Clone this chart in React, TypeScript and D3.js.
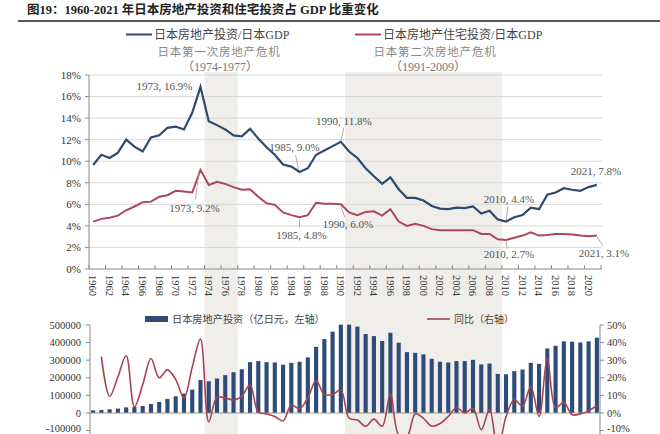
import React, { useRef, useEffect } from "react";
import * as d3 from "d3";

// 年份（类目）
const years = d3.range(1960, 2022);

// 日本房地产投资/日本GDP (%)
const reShare = [
  9.65, 10.6, 10.3, 10.8, 12.0, 11.35, 10.9, 12.2, 12.4, 13.1,
  13.2, 12.95, 14.5, 16.9, 13.7, 13.35, 12.95, 12.4, 12.3, 13.0,
  12.1, 11.3, 10.6, 9.7, 9.5, 9.0, 9.35, 10.6, 11.0, 11.4,
  11.8, 10.9, 10.3, 9.35, 8.6, 7.9, 8.5, 7.4, 6.6, 6.6,
  6.35, 5.85, 5.6, 5.55, 5.7, 5.65, 5.8, 5.15, 5.4, 4.6,
  4.4, 4.8, 5.0, 5.7, 5.55, 6.9, 7.1, 7.5, 7.35, 7.25,
  7.6, 7.8,
];

// 日本房地产住宅投资/日本GDP (%)
const resShare = [
  4.4, 4.65, 4.75, 4.95, 5.45, 5.8, 6.2, 6.25, 6.7, 6.85,
  7.25, 7.2, 7.1, 9.2, 7.8, 8.1, 7.9, 7.6, 7.35, 7.4,
  6.7, 6.1, 5.95, 5.25, 5.0, 4.8, 5.0, 6.15, 6.05, 6.05,
  6.0, 5.25, 5.0, 5.3, 5.35, 4.95, 5.55, 4.4, 4.0, 4.2,
  4.0, 3.7, 3.6, 3.6, 3.6, 3.6, 3.6, 3.25, 3.25, 2.75,
  2.7, 2.9, 3.1, 3.4, 3.1, 3.15, 3.25, 3.25, 3.2, 3.1,
  3.05, 3.1,
];

// 日本房地产投资（亿日元）
const reInvest = [
  15000, 17000, 21000, 25000, 32000, 34000, 40000, 51000, 63000, 80000,
  95000, 110000, 133000, 188000, 180000, 196000, 215000, 232000, 249000, 289000,
  295000, 289000, 287000, 274000, 285000, 291000, 316000, 376000, 420000, 462000,
  502000, 502000, 491000, 449000, 437000, 409000, 456000, 399000, 346000, 342000,
  333000, 308000, 291000, 287000, 295000, 295000, 302000, 276000, 281000, 222000,
  220000, 238000, 247000, 285000, 279000, 367000, 382000, 407000, 405000, 401000,
  407000, 428000,
];

// 同比 (%)
const reYoY: (number | null)[] = [
  null, 32, 9.5, 20.5, 32.5, 3.5, 16, 31, 20, 24.5,
  19, 8.5, 26, 42, -5, 9, 8.5, 7.5, 9.5, 16,
  0.5, -0.5, -2, -4.5, 4.5, 2.5, 8.5, 18.5, 10.5, 10.5,
  13, -3, -4, -7.5, -3.5, -7.5, 11, -12.5, -13.5, -0.5,
  -3, -7.5, -6, -2, 3, 0, 2.5, -9.5, 2, -21,
  -2, 7.5, 4, 15, -2, 31, 3, 6, -1, -0.5,
  1.2, 4.4,
];

const pctTicks = [0, 2, 4, 6, 8, 10, 12, 14, 16, 18];
const investTicks = [-100000, 0, 100000, 200000, 300000, 400000, 500000];
const yoyTicks = [-10, 0, 10, 20, 30, 40, 50];

const crises = [
  { name: "日本第一次房地产危机", period: "（1974-1977）", start: 1974, end: 1977 },
  { name: "日本第二次房地产危机", period: "（1991-2009）", start: 1991, end: 2009 },
];

const W = 660;
const H = 434;
const FONT = "'Liberation Serif', 'Noto Sans CJK SC', serif";
const BLUE = "#2d4a70";
const RED = "#b0465a";
const NAVY = "#2f4c78";
const AXIS = "#8a8a8a";

const App = () => {
  const svgRef = useRef<SVGSVGElement>(null);

  useEffect(() => {
    if (!svgRef.current) return;
    const svg = d3.select(svgRef.current);
    svg.selectAll("*").remove();
    svg.style("font-family", FONT);

    const x = d3.scaleBand<number>().domain(years).range([89, 601]).padding(0);
    const cx = (yr: number) => (x(yr) as number) + x.bandwidth() / 2;
    const yTop = d3.scaleLinear().domain([0, 18]).range([269, 75]);
    const yInv = d3.scaleLinear().domain([-100000, 500000]).range([430.6, 325]);
    const yYoY = d3.scaleLinear().domain([-10, 50]).range([430.6, 325]);

    // 危机阴影
    crises.forEach((c) => {
      svg
        .append("rect")
        .attr("x", x(c.start) as number)
        .attr("y", 72)
        .attr("width", (x(c.end) as number) + x.bandwidth() - (x(c.start) as number))
        .attr("height", H - 72)
        .attr("fill", "#efeeea");
    });

    // 标题
    svg
      .append("text")
      .attr("x", 27)
      .attr("y", 14)
      .style("font-size", "12.5px")
      .style("font-weight", "bold")
      .style("fill", "#222")
      .text("图19：1960-2021 年日本房地产投资和住宅投资占 GDP 比重变化");
    svg
      .append("line")
      .attr("x1", 18)
      .attr("x2", W)
      .attr("y1", 21)
      .attr("y2", 21)
      .attr("stroke", "#222")
      .attr("stroke-width", 1.5);

    // 上图图例
    const legends = [
      { x: 126, label: "日本房地产投资/日本GDP", color: BLUE },
      { x: 355, label: "日本房地产住宅投资/日本GDP", color: RED },
    ];
    legends.forEach((l) => {
      svg
        .append("line")
        .attr("x1", l.x)
        .attr("x2", l.x + 26)
        .attr("y1", 34.5)
        .attr("y2", 34.5)
        .attr("stroke", l.color)
        .attr("stroke-width", 2);
      svg
        .append("text")
        .attr("x", l.x + 28)
        .attr("y", 39)
        .style("font-size", "12px")
        .style("fill", "#444")
        .text(l.label);
    });

    const crisisCenters = [219, 435];
    crises.forEach((c, i) => {
      svg
        .append("text")
        .attr("x", crisisCenters[i])
        .attr("y", 56)
        .attr("text-anchor", "middle")
        .style("font-size", "11.5px")
        .style("letter-spacing", "0.8px")
        .style("fill", "#888")
        .text(c.name);
      svg
        .append("text")
        .attr("x", crisisCenters[i] + (i === 0 ? 1 : -7))
        .attr("y", 71)
        .attr("text-anchor", "middle")
        .style("font-size", "12px")
        .style("fill", "#777")
        .text(c.period);
    });

    // 上图网格与坐标轴
    const top = svg.append("g");
    pctTicks.forEach((t) => {
      top
        .append("line")
        .attr("x1", 89)
        .attr("x2", 602)
        .attr("y1", yTop(t))
        .attr("y2", yTop(t))
        .attr("stroke", t === 0 ? AXIS : "#d8d8d8")
        .attr("stroke-width", 1);
      top
        .append("line")
        .attr("x1", 85)
        .attr("x2", 89)
        .attr("y1", yTop(t))
        .attr("y2", yTop(t))
        .attr("stroke", AXIS);
      top
        .append("text")
        .attr("x", 81)
        .attr("y", yTop(t))
        .attr("dy", "0.35em")
        .attr("text-anchor", "end")
        .style("font-size", "11px")
        .style("fill", "#333")
        .text(`${t}%`);
    });
    top
      .append("line")
      .attr("x1", 89)
      .attr("x2", 89)
      .attr("y1", yTop(18))
      .attr("y2", yTop(0))
      .attr("stroke", AXIS);

    const evenYears = years.filter((yr) => yr % 2 === 0);
    evenYears.forEach((yr) => {
      top
        .append("line")
        .attr("x1", x(yr) as number)
        .attr("x2", x(yr) as number)
        .attr("y1", yTop(0))
        .attr("y2", yTop(0) - 4)
        .attr("stroke", AXIS);
      top
        .append("text")
        .attr("transform", `translate(${cx(yr)},${yTop(0) + 6}) rotate(90)`)
        .attr("dy", "0.35em")
        .style("font-size", "10.5px")
        .style("fill", "#333")
        .text(yr);
    });
    top
      .append("line")
      .attr("x1", 601)
      .attr("x2", 601)
      .attr("y1", yTop(0))
      .attr("y2", yTop(0) - 4)
      .attr("stroke", AXIS);

    // 上图折线
    const lineTop = d3
      .line<number>()
      .x((_, i) => cx(years[i]))
      .y((d) => yTop(d));
    top
      .append("path")
      .attr("d", lineTop(resShare))
      .attr("fill", "none")
      .attr("stroke", RED)
      .attr("stroke-width", 2);
    top
      .append("path")
      .attr("d", lineTop(reShare))
      .attr("fill", "none")
      .attr("stroke", BLUE)
      .attr("stroke-width", 2.2);

    // 数据标注
    const notes = [
      { yr: 1973, s: reShare, dx: -8, dy: 3, anchor: "end", lead: null },
      { yr: 1973, s: resShare, dx: -6, dy: 42, anchor: "middle", lead: [-1.5, 2, -5, 29] },
      { yr: 1985, s: reShare, dx: -5, dy: -21, anchor: "middle", lead: [-1, -2, -4, -17] },
      { yr: 1985, s: resShare, dx: 2, dy: 22, anchor: "middle", lead: [0, 2, 0, 10] },
      { yr: 1990, s: reShare, dx: 3, dy: -17, anchor: "middle", lead: [0, -1, 3, -14] },
      { yr: 1990, s: resShare, dx: 7, dy: 24, anchor: "middle", lead: [0, 2, 4, 13] },
      { yr: 2010, s: reShare, dx: 3, dy: -19, anchor: "middle", lead: [0, -1, 2, -15] },
      { yr: 2010, s: resShare, dx: 3, dy: 18, anchor: "middle", lead: [0, 1, 1, 9] },
      { yr: 2021, s: reShare, dx: -1, dy: -10, anchor: "middle", lead: null },
      { yr: 2021, s: resShare, dx: 7, dy: 21, anchor: "middle", lead: [0, 1, 6, 10] },
    ];
    notes.forEach((n) => {
      const i = years.indexOf(n.yr);
      const px = cx(n.yr);
      const py = yTop(n.s[i]);
      if (n.lead) {
        top
          .append("line")
          .attr("x1", px + n.lead[0])
          .attr("y1", py + n.lead[1])
          .attr("x2", px + n.lead[2])
          .attr("y2", py + n.lead[3])
          .attr("stroke", "#999")
          .attr("stroke-width", 0.8);
      }
      top
        .append("text")
        .attr("x", px + n.dx)
        .attr("y", py + n.dy)
        .attr("text-anchor", n.anchor)
        .style("font-size", "11px")
        .style("fill", "#555")
        .text(`${n.yr}, ${n.s[i].toFixed(1)}%`);
    });

    // 下图
    const bottom = svg.append("g");
    const barW = x.bandwidth() * 0.5;
    bottom
      .selectAll(".bar")
      .data(reInvest)
      .enter()
      .append("rect")
      .attr("class", "bar")
      .attr("x", (_, i) => cx(years[i]) - barW / 2)
      .attr("y", (d) => yInv(d))
      .attr("width", barW)
      .attr("height", (d) => yInv(0) - yInv(d))
      .attr("fill", NAVY);

    bottom
      .append("line")
      .attr("x1", 90)
      .attr("x2", 600)
      .attr("y1", yInv(0))
      .attr("y2", yInv(0))
      .attr("stroke", "#999");

    const lineYoY = d3
      .line<number | null>()
      .defined((d) => d !== null)
      .x((_, i) => cx(years[i]))
      .y((d) => yYoY(d as number))
      .curve(d3.curveCatmullRom.alpha(0.5));
    bottom
      .append("path")
      .attr("d", lineYoY(reYoY))
      .attr("fill", "none")
      .attr("stroke", "#a8434f")
      .attr("stroke-width", 1.6);

    // 左轴（最下一个刻度标签贴着画面底边，稍微上提）
    bottom
      .append("line")
      .attr("x1", 90)
      .attr("x2", 90)
      .attr("y1", yInv(500000))
      .attr("y2", H)
      .attr("stroke", AXIS);
    investTicks.forEach((t) => {
      bottom
        .append("line")
        .attr("x1", 86)
        .attr("x2", 90)
        .attr("y1", yInv(t))
        .attr("y2", yInv(t))
        .attr("stroke", AXIS);
      bottom
        .append("text")
        .attr("x", 81)
        .attr("y", Math.min(yInv(t), 428))
        .attr("dy", "0.35em")
        .attr("text-anchor", "end")
        .style("font-size", "10.5px")
        .style("fill", "#333")
        .text(t);
    });

    // 右轴
    bottom
      .append("line")
      .attr("x1", 600)
      .attr("x2", 600)
      .attr("y1", yYoY(50))
      .attr("y2", H)
      .attr("stroke", AXIS);
    yoyTicks.forEach((t) => {
      bottom
        .append("line")
        .attr("x1", 600)
        .attr("x2", 604)
        .attr("y1", yYoY(t))
        .attr("y2", yYoY(t))
        .attr("stroke", AXIS);
      bottom
        .append("text")
        .attr("x", 607)
        .attr("y", Math.min(yYoY(t), 428))
        .attr("dy", "0.35em")
        .style("font-size", "10.5px")
        .style("fill", "#333")
        .text(`${t}%`);
    });

    // 下图图例
    bottom
      .append("rect")
      .attr("x", 145)
      .attr("y", 316)
      .attr("width", 23)
      .attr("height", 6)
      .attr("fill", NAVY);
    bottom
      .append("text")
      .attr("x", 172)
      .attr("y", 322.5)
      .style("font-size", "10.2px")
      .style("fill", "#444")
      .text("日本房地产投资（亿日元，左轴）");
    bottom
      .append("line")
      .attr("x1", 427)
      .attr("x2", 450)
      .attr("y1", 319)
      .attr("y2", 319)
      .attr("stroke", "#a8434f")
      .attr("stroke-width", 1.6);
    bottom
      .append("text")
      .attr("x", 454)
      .attr("y", 322.5)
      .style("font-size", "10px")
      .style("fill", "#444")
      .text("同比（右轴）");
  }, []);

  return (
    <svg
      ref={svgRef}
      width={W}
      height={H}
      style={{ position: "absolute", left: 0, top: 0, background: "#fff" }}
    />
  );
};

export default App;
